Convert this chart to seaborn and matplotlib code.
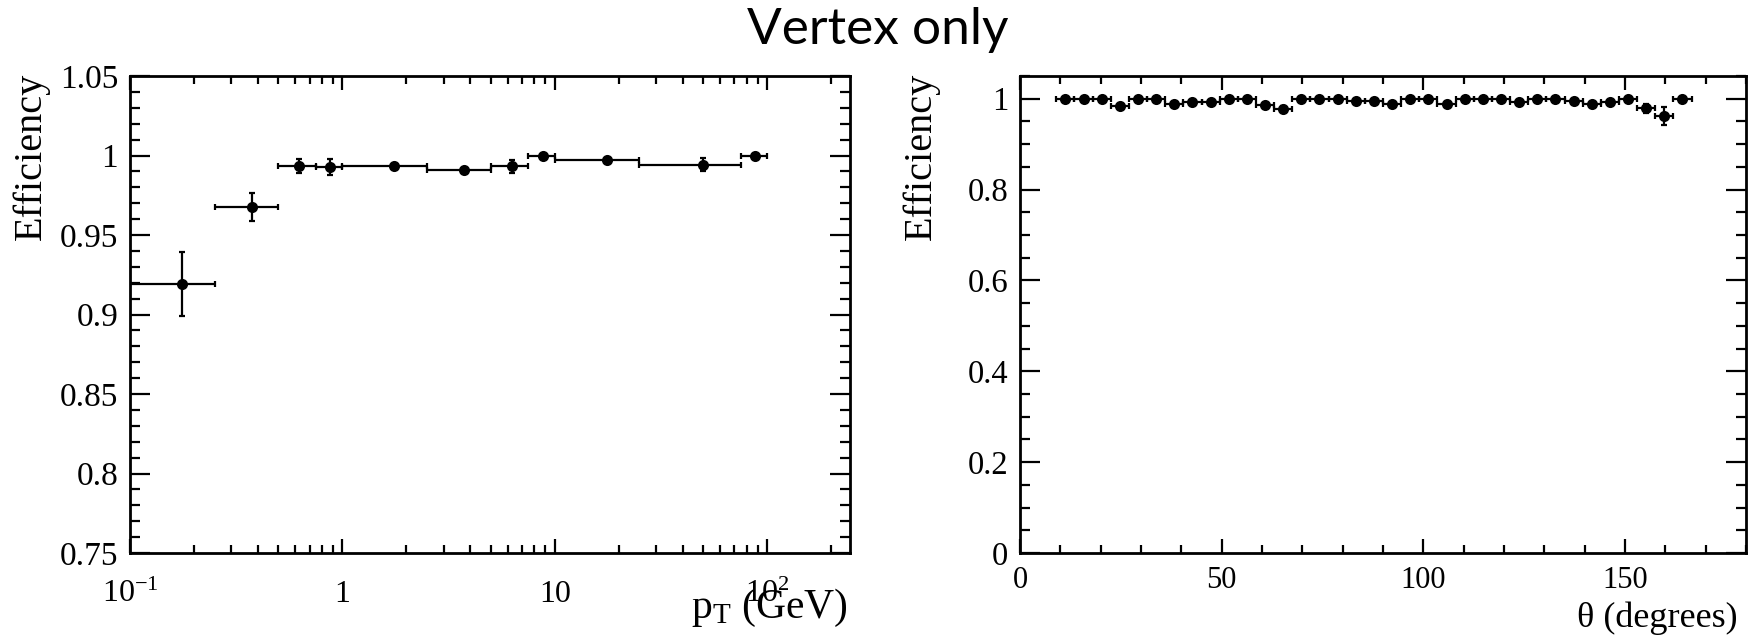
import numpy as np
import pandas as pd
import matplotlib
matplotlib.use("Agg")
import matplotlib.pyplot as plt
import seaborn as sns
from matplotlib.ticker import LogLocator, NullFormatter, MultipleLocator

# ---------------- data ----------------
# Efficiency vs pT (variable-width bins)
pt_lo = [0.1, 0.25, 0.5, 0.75, 1.0, 2.5, 5.0, 7.5, 10.0, 25.0, 75.0]
pt_hi = [0.25, 0.5, 0.75, 1.0, 2.5, 5.0, 7.5, 10.0, 25.0, 75.0, 100.0]
pt_center = [0.175, 0.375, 0.625, 0.875, 1.75, 3.75, 6.25, 8.75, 17.5, 50.0, 87.5]
eff_pt = [0.919, 0.9676, 0.9935, 0.9925, 0.9931, 0.9910, 0.9931, 1.0, 0.9969, 0.9942, 1.0]
eff_pt_err_lo = [0.020, 0.009, 0.0045, 0.005, 0.001, 0.001, 0.004, 0.001, 0.001, 0.004, 0.001]
eff_pt_err_hi = [0.020, 0.009, 0.0040, 0.005, 0.001, 0.001, 0.004, 0.0, 0.001, 0.004, 0.0]

# Efficiency vs theta (4.5 degree bins)
theta_center = [11.25, 15.75, 20.25, 24.75, 29.25, 33.75, 38.25, 42.75, 47.25, 51.75,
                56.25, 60.75, 65.25, 69.75, 74.25, 78.75, 83.25, 87.75, 92.25, 96.75,
                101.25, 105.75, 110.25, 114.75, 119.25, 123.75, 128.25, 132.75, 137.25, 141.75,
                146.25, 150.75, 155.25, 159.75, 164.25]
theta_halfwidth = 2.25
eff_theta = [1.0, 1.0, 1.0, 0.985, 1.0, 1.0, 0.988, 0.993, 0.993, 1.0,
             1.0, 0.986, 0.977, 1.0, 1.0, 1.0, 0.994, 0.994, 0.989, 1.0,
             1.0, 0.988, 1.0, 1.0, 1.0, 0.993, 1.0, 1.0, 0.995, 0.988,
             0.993, 1.0, 0.979, 0.962, 1.0]
eff_theta_err = [0.001, 0.001, 0.001, 0.003, 0.001, 0.001, 0.003, 0.003, 0.003, 0.001,
                 0.001, 0.004, 0.007, 0.001, 0.001, 0.001, 0.003, 0.003, 0.003, 0.001,
                 0.001, 0.003, 0.001, 0.001, 0.001, 0.003, 0.001, 0.001, 0.003, 0.003,
                 0.003, 0.001, 0.010, 0.020, 0.001]

pt_tick_values = [0.1, 1, 10, 100]
pt_tick_labels = [r"$\mathregular{10^{-1}}$", "1", "10", r"$\mathregular{10^{2}}$"]
eff_pt_ticks = [0.75, 0.8, 0.85, 0.9, 0.95, 1.0, 1.05]
eff_pt_tick_labels = ["0.75", "0.8", "0.85", "0.9", "0.95", "1", "1.05"]
theta_ticks = [0, 50, 100, 150]
theta_tick_labels = ["0", "50", "100", "150"]
eff_theta_ticks = [0, 0.2, 0.4, 0.6, 0.8, 1.0]
eff_theta_tick_labels = ["0", "0.2", "0.4", "0.6", "0.8", "1"]

df_pt = pd.DataFrame({"pt": pt_center, "eff": eff_pt})
df_theta = pd.DataFrame({"theta": theta_center, "eff": eff_theta})

# ---------------- style ----------------
sns.set_style("ticks")
plt.rcParams["font.family"] = ["Liberation Serif", "DejaVu Serif"]
plt.rcParams["mathtext.fontset"] = "stix"
plt.rcParams["axes.linewidth"] = 2.0
for key in ("text.color", "axes.labelcolor", "xtick.color", "ytick.color",
            "axes.edgecolor", "xtick.labelcolor", "ytick.labelcolor"):
    plt.rcParams[key] = "black"

fig = plt.figure(figsize=(17.57, 6.43), dpi=100)
axL = fig.add_axes([130 / 1757, 1 - 553 / 643, 720 / 1757, 477 / 643])
axR = fig.add_axes([1020 / 1757, 1 - 553 / 643, 726 / 1757, 477 / 643])

# ---- left: vs pT ----
axL.set_xscale("log")
x = np.array(pt_center)
axL.errorbar(x, eff_pt,
             xerr=[x - np.array(pt_lo), np.array(pt_hi) - x],
             yerr=[eff_pt_err_lo, eff_pt_err_hi],
             fmt="none", ecolor="black", elinewidth=1.6, capsize=2.2, capthick=1.6, zorder=2)
sns.scatterplot(data=df_pt, x="pt", y="eff", ax=axL, color="black", s=64,
                linewidth=0, zorder=3, legend=False)
axL.set_xlim(0.1, 245)
axL.set_ylim(0.75, 1.05)
axL.set_xticks(pt_tick_values, labels=pt_tick_labels)
axL.xaxis.set_minor_locator(LogLocator(base=10, subs=range(2, 10), numticks=20))
axL.xaxis.set_minor_formatter(NullFormatter())
axL.set_yticks(eff_pt_ticks, labels=eff_pt_tick_labels)
axL.yaxis.set_minor_locator(MultipleLocator(0.01))

# ---- right: vs theta ----
t = np.array(theta_center)
axR.errorbar(t, eff_theta,
             xerr=theta_halfwidth,
             yerr=[eff_theta_err, np.minimum(eff_theta_err, 1 - np.array(eff_theta))],
             fmt="none", ecolor="black", elinewidth=1.6, capsize=2.2, capthick=1.6, zorder=2)
sns.scatterplot(data=df_theta, x="theta", y="eff", ax=axR, color="black", s=64,
                linewidth=0, zorder=3, legend=False)
axR.set_xlim(0, 180)
axR.set_ylim(0, 1.05)
axR.set_xticks(theta_ticks, labels=theta_tick_labels)
axR.xaxis.set_minor_locator(MultipleLocator(10))
axR.set_yticks(eff_theta_ticks, labels=eff_theta_tick_labels)
axR.yaxis.set_minor_locator(MultipleLocator(0.05))

for ax in (axL, axR):
    for s in ax.spines.values():
        s.set_linewidth(2.0)
        s.set_color("black")
        s.set_visible(True)
    ax.tick_params(which="both", direction="in", top=True, right=True,
                   labeltop=False, labelright=False, width=1.6, color="black",
                   labelcolor="black")
    ax.tick_params(axis="x", which="major", length=10)
    ax.tick_params(axis="x", which="minor", length=5.5)
    ax.tick_params(axis="y", which="major", length=14.5, pad=8.5)
    ax.tick_params(axis="y", which="minor", length=7.2)
    ax.grid(False)

axL.tick_params(axis="x", which="major", pad=35, labelsize=23)
axL.tick_params(axis="y", labelsize=24)
axR.tick_params(axis="x", which="major", pad=25, labelsize=22)
axR.tick_params(axis="y", labelsize=23.5)
for ax in (axL, axR):
    for lbl in ax.get_xticklabels():
        lbl.set_verticalalignment("baseline")

axL.set_ylabel("Efficiency", fontsize=29, color="black")
axL.yaxis.label.set_horizontalalignment("right")
axL.yaxis.set_label_coords(-0.111, 1.006)
axR.set_ylabel("Efficiency", fontsize=29, color="black")
axR.yaxis.label.set_horizontalalignment("right")
axR.yaxis.set_label_coords(-0.110, 1.006)

axL.set_xlabel(r"$\mathregular{p_{T}}$ (GeV)", fontsize=30, color="black")
axL.xaxis.label.set_horizontalalignment("right")
axL.xaxis.label.set_verticalalignment("baseline")
axL.xaxis.set_label_coords(0.997, -0.136)
axR.set_xlabel("θ (degrees)", fontsize=26, color="black")
axR.xaxis.label.set_horizontalalignment("right")
axR.xaxis.label.set_verticalalignment("baseline")
axR.xaxis.set_label_coords(0.989, -0.155)

fig.text(0.4995, 1 - 44 / 643, "Vertex only", ha="center", va="baseline",
         fontsize=37, color="black", family=["Lato", "DejaVu Sans"])

fig.savefig("out.png", dpi=100, facecolor="white")
